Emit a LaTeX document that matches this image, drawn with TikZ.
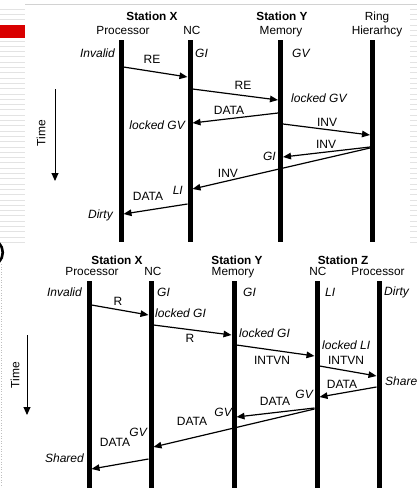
\documentclass[tikz,border=0pt]{standalone}
\usepackage{fontspec}
\setmainfont{Liberation Sans}
\usetikzlibrary{arrows.meta}
\begin{document}
\begin{tikzpicture}[x=1pt,y=-1pt,
 life/.style={line width=5pt},
 msg/.style={line width=1.2pt,-{Triangle[length=8pt,width=6.5pt]}},
 lbl/.style={font=\fontsize{12}{14}\selectfont, inner sep=0pt},
 st/.style={font=\fontsize{12}{14}\selectfont\itshape, inner sep=0pt},
 hd/.style={font=\fontsize{11.8}{13}\selectfont, inner sep=0pt, anchor=base},
 hdb/.style={font=\fontsize{11.8}{13}\selectfont\bfseries, inner sep=0pt, anchor=base},
 timearrow/.style={line width=1pt,-{Triangle[length=8pt,width=7pt]}},
 stripe/.style={gray!22, line width=0.6pt},
]
\useasboundingbox (0,0) rectangle (417,488);
\clip (0,0) rectangle (417,488);
\fill[white] (0,0) rectangle (417,488);

% ---- slide artifacts ----
\foreach \yy in {9,14.3,...,247} {\draw[stripe] (0,\yy) -- (25,\yy); \draw[stripe] (410,\yy) -- (417,\yy);}
\fill[white] (0,24) rectangle (25,39);
\fill[red!85!black] (0,25) rectangle (25,38);
\draw[gray!35, line width=0.7pt] (25,4) -- (417,4);
\draw[line width=2.6pt] (-1,243) .. controls (4,248) and (4,257) .. (-1,262);
\draw[gray!50, dotted, line width=0.6pt] (1,264) -- (1,488);

% ================= TOP DIAGRAM =================
\node[hdb] (tSX) at (152,20) {Station X};
\node[hd]  (tPr) at (123,34) {Processor};
\node[hd]  (tNC) at (192,34) {NC};
\node[hdb] (tSY) at (282,20) {Station Y};
\node[hd]  (tMe) at (281,34) {Memory};
\node[hd]  (tRi) at (377,20) {Ring};
\node[hd]  (tHi) at (377,34) {Hierarhcy};

\coordinate (tPXa) at (121,40);   \coordinate (tPXb) at (121,242);
\coordinate (tNXa) at (190,40);   \coordinate (tNXb) at (190,242);
\coordinate (tMYa) at (280.5,40); \coordinate (tMYb) at (280.5,242);
\coordinate (tRHa) at (372.5,40); \coordinate (tRHb) at (372.5,242);
\draw[life] (tPXa) -- (tPXb);
\draw[life] (tNXa) -- (tNXb);
\draw[life] (tMYa) -- (tMYb);
\draw[life] (tRHa) -- (tRHb);

% time arrow
\coordinate (tTa) at (55,89); \coordinate (tTb) at (55,181);
\draw[timearrow] (tTa) -- (tTb);
\node[lbl, rotate=90] (tTime) at (41,133) {Time};

% states
\node[st, anchor=east] (ts1) at (115,53) {Invalid};
\node[st, anchor=west] (ts2) at (195,53) {GI};
\node[st, anchor=west] (ts3) at (292,53) {GV};
\node[st, anchor=west] (ts4) at (291,98) {locked GV};
\node[st, anchor=east] (ts5) at (185,125) {locked GV};
\node[st, anchor=east] (ts6) at (276,156) {GI};
\node[st, anchor=east] (ts7) at (183,190) {LI};
\node[st, anchor=east] (ts8) at (113,215) {Dirty};

% messages
\coordinate (tm1a) at (123.5,67);  \coordinate (tm1b) at (187.5,77);
\coordinate (tm2a) at (192.5,89);  \coordinate (tm2b) at (278,100);
\coordinate (tm3a) at (278,113);   \coordinate (tm3b) at (192.5,123);
\coordinate (tm4a) at (283,124);   \coordinate (tm4b) at (370,135);
\coordinate (tm5a) at (370,147);   \coordinate (tm5b) at (283,157);
\coordinate (tm6a) at (370,148);   \coordinate (tm6b) at (192.5,189);
\coordinate (tm7a) at (187.5,204); \coordinate (tm7b) at (123.5,214);
\draw[msg] (tm1a) -- (tm1b);
\draw[msg] (tm2a) -- (tm2b);
\draw[msg] (tm3a) -- (tm3b);
\draw[msg] (tm4a) -- (tm4b);
\draw[msg] (tm5a) -- (tm5b);
\draw[msg] (tm6a) -- (tm6b);
\draw[msg] (tm7a) -- (tm7b);
\node[lbl] (tl1) at (152,59) {RE};
\node[lbl] (tl2) at (243,85) {RE};
\node[lbl] (tl3) at (229,110) {DATA};
\node[lbl] (tl4) at (327,122) {INV};
\node[lbl] (tl5) at (326,144) {INV};
\node[lbl] (tl6) at (228,173) {INV};
\node[lbl] (tl7) at (148,196) {DATA};

% ================= BOTTOM DIAGRAM =================
\node[hdb] (bSX) at (117,264) {Station X};
\node[hd]  (bPr) at (92,275) {Processor};
\node[hd]  (bNC) at (153,275) {NC};
\node[hdb] (bSY) at (237,264) {Station Y};
\node[hd]  (bMe) at (233,275) {Memory};
\node[hdb] (bSZ) at (343,264) {Station Z};
\node[hd]  (bNZ) at (318,275) {NC};
\node[hd]  (bPZ) at (378,275) {Processor};

\coordinate (bPXa) at (89,281);  \coordinate (bPXb) at (89,490);
\coordinate (bNXa) at (151,281); \coordinate (bNXb) at (151,490);
\coordinate (bMYa) at (234,281); \coordinate (bMYb) at (234,490);
\coordinate (bNZa) at (317,281); \coordinate (bNZb) at (317,490);
\coordinate (bPZa) at (379,281); \coordinate (bPZb) at (379,490);
\draw[life] (bPXa) -- (bPXb);
\draw[life] (bNXa) -- (bNXb);
\draw[life] (bMYa) -- (bMYb);
\draw[life] (bNZa) -- (bNZb);
\draw[life] (bPZa) -- (bPZb);

\coordinate (bTa) at (27,335); \coordinate (bTb) at (27,415);
\draw[timearrow] (bTa) -- (bTb);
\node[lbl, rotate=90] (bTime) at (15,375) {Time};

% states
\node[st, anchor=east] (bs1) at (82,292) {Invalid};
\node[st, anchor=west] (bs2) at (157,292) {GI};
\node[st, anchor=west] (bs3) at (243,292) {GI};
\node[st, anchor=west] (bs4) at (325,292) {LI};
\node[st, anchor=west] (bs5) at (384,292) {Dirty};
\node[st, anchor=west] (bs6) at (155,313) {locked GI};
\node[st, anchor=west] (bs7) at (239,333) {locked GI};
\node[st, anchor=west] (bs8) at (322,345) {locked LI};
\node[st, anchor=west] (bs9) at (385,381) {Shared};
\node[st, anchor=east] (bs10) at (313,394) {GV};
\node[st, anchor=east] (bs11) at (232,412) {GV};
\node[st, anchor=east] (bs12) at (147,432) {GV};
\node[st, anchor=east] (bs13) at (84,458) {Shared};

% messages
\coordinate (bm1a) at (91.5,305);  \coordinate (bm1b) at (148.5,315);
\coordinate (bm2a) at (153.5,325); \coordinate (bm2b) at (231.5,335);
\coordinate (bm3a) at (236.5,345); \coordinate (bm3b) at (314.5,356);
\coordinate (bm4a) at (319.5,366); \coordinate (bm4b) at (376.5,376);
\coordinate (bm5a) at (376.5,387); \coordinate (bm5b) at (319.5,397);
\coordinate (bm6a) at (314.5,408); \coordinate (bm6b) at (236.5,417);
\coordinate (bm7a) at (314.5,409); \coordinate (bm7b) at (153.5,447);
\coordinate (bm8a) at (148.5,459); \coordinate (bm8b) at (91.5,469);
\draw[msg] (bm1a) -- (bm1b);
\draw[msg] (bm2a) -- (bm2b);
\draw[msg] (bm3a) -- (bm3b);
\draw[msg] (bm4a) -- (bm4b);
\draw[msg] (bm5a) -- (bm5b);
\draw[msg] (bm6a) -- (bm6b);
\draw[msg] (bm7a) -- (bm7b);
\draw[msg] (bm8a) -- (bm8b);
\node[lbl] (bl1) at (118,301) {R};
\node[lbl] (bl2) at (190,338) {R};
\node[lbl] (bl3) at (272,360) {INTVN};
\node[lbl] (bl4) at (346,360) {INTVN};
\node[lbl] (bl5) at (342,384) {DATA};
\node[lbl] (bl6) at (275,401) {DATA};
\node[lbl] (bl7) at (192,421) {DATA};
\node[lbl] (bl8) at (115,442) {DATA};
\end{tikzpicture}
\end{document}
